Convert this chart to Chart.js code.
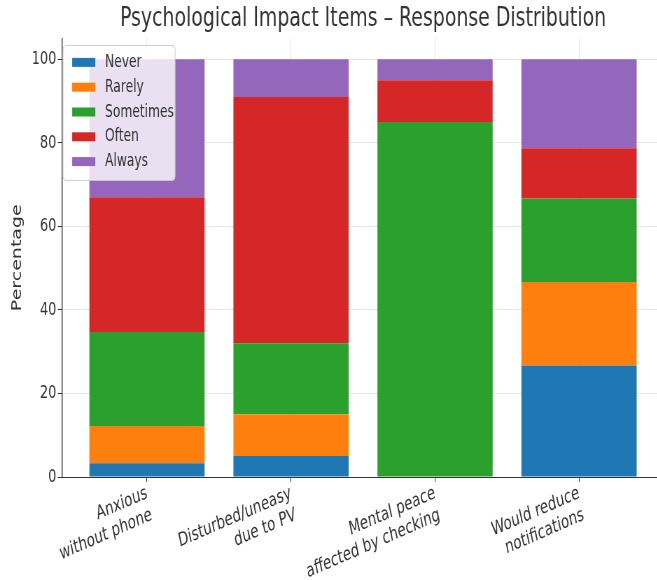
<!DOCTYPE html>
<html>
<head>
<meta charset="utf-8">
<script src="https://cdn.jsdelivr.net/npm/chart.js@4.4.0/dist/chart.umd.min.js"></script>
<style>
  html, body { margin: 0; padding: 0; background: #fff; overflow: hidden; }
  #wrap { width: 657px; height: 580px; overflow: hidden; }
  /* the reference picture is squeezed sideways, so the chart is too */
  #squeeze { width: 960px; height: 580px; transform: scaleX(0.7); transform-origin: 0 0; }
</style>
</head>
<body>
<div id="wrap"><div id="squeeze"><canvas id="chart" width="960" height="580"></canvas></div></div>
<script>
var itemLabels = [
    ["Anxious", "without phone"],
    ["Disturbed/uneasy", "due to PV"],
    ["Mental peace", "affected by checking"],
    ["Would reduce", "notifications"]
];
var responseNames = ["Never", "Rarely", "Sometimes", "Often", "Always"];
var never = [3.3, 5, 0, 26.7];
var rarely = [8.9, 10, 0, 20];
var sometimes = [22.5, 17, 85, 20];
var often = [32.3, 59, 10, 12];
var always = [33, 9, 5, 21.3];
var yTicks = [0, 20, 40, 60, 80, 100];

var colors = ["#1f77b4", "#ff7f0e", "#2ca02c", "#d62728", "#9467bd"];
var FONT = "'DejaVu Sans', sans-serif";

function toPoints(values) {
    var pts = [];
    for (var i = 0; i < values.length; i++) {
        pts.push({ x: i, y: values[i] });
    }
    return pts;
}

var series = [never, rarely, sometimes, often, always];
var datasets = [];
for (var i = 0; i < series.length; i++) {
    datasets.push({
        label: responseNames[i],
        data: toPoints(series[i]),
        backgroundColor: colors[i],
        borderWidth: 0,
        barPercentage: 0.8,
        categoryPercentage: 1.0
    });
}

// matplotlib style legend box in the upper left of the plot
var legendBox = {
    id: 'legendBox',
    afterDraw: function(chart) {
        var ctx = chart.ctx;
        var a = chart.chartArea;
        var x = a.left + 1.5, y = a.top + 7, w = 160, h = 135;
        ctx.save();
        ctx.fillStyle = 'rgba(255,255,255,0.8)';
        ctx.strokeStyle = '#cccccc';
        ctx.lineWidth = 1;
        ctx.beginPath();
        ctx.roundRect(x, y, w, h, 4);
        ctx.fill();
        ctx.stroke();
        ctx.font = '17.5px ' + FONT;
        ctx.textBaseline = 'middle';
        ctx.textAlign = 'left';
        var ds = chart.data.datasets;
        for (var j = 0; j < ds.length; j++) {
            var cy = y + 17 + j * 24.8;
            ctx.fillStyle = ds[j].backgroundColor;
            ctx.fillRect(x + 13, cy - 4.5, 33, 9);
            ctx.fillStyle = '#333333';
            ctx.fillText(ds[j].label, x + 60, cy);
        }
        ctx.restore();
    }
};

new Chart(document.getElementById("chart"), {
    type: 'bar',
    data: { datasets: datasets },
    options: {
        responsive: false,
        animation: false,
        devicePixelRatio: 1,
        layout: { padding: { left: 0, right: 11.4, top: 0, bottom: 0 } },
        plugins: {
            legend: { display: false },
            tooltip: { enabled: false },
            title: {
                display: true,
                fullSize: false,
                text: 'Psychological Impact Items \u2013 Response Distribution',
                color: '#333333',
                font: { family: FONT, size: 27, weight: 'normal' },
                padding: { top: 3, bottom: 3 }
            }
        },
        scales: {
            x: {
                type: 'linear',
                stacked: true,
                bounds: 'data',
                offset: false,
                min: -0.59,
                max: 3.59,
                z: 1,
                afterBuildTicks: function(scale) {
                    scale.ticks = itemLabels.map(function(l, k) { return { value: k }; });
                },
                afterFit: function(scale) { scale.height = 103; },
                ticks: {
                    color: '#333333',
                    font: { family: FONT, size: 19 },
                    minRotation: 17,
                    maxRotation: 17,
                    padding: 0,
                    autoSkip: false,
                    callback: function(v) { return itemLabels[v]; }
                },
                grid: {
                    offset: false,
                    color: 'rgba(176,176,176,0.3)',
                    tickColor: '#333333',
                    tickLength: 5
                },
                border: { color: '#333333', width: 1 }
            },
            y: {
                stacked: true,
                bounds: 'data',
                min: 0,
                max: 105,
                z: 1,
                afterBuildTicks: function(scale) {
                    scale.ticks = yTicks.map(function(v) { return { value: v }; });
                },
                afterFit: function(scale) { scale.width = 88.6; },
                ticks: {
                    color: '#333333',
                    font: { family: FONT, size: 18.5 },
                    padding: 2
                },
                grid: {
                    color: 'rgba(176,176,176,0.3)',
                    tickColor: '#333333',
                    tickLength: 6
                },
                border: { color: '#333333', width: 1.4 },
                title: {
                    display: true,
                    text: 'Percentage',
                    color: '#333333',
                    font: { family: FONT, size: 19 },
                    padding: { top: 14, bottom: 0 }
                }
            }
        }
    },
    plugins: [legendBox]
});
</script>
</body>
</html>
